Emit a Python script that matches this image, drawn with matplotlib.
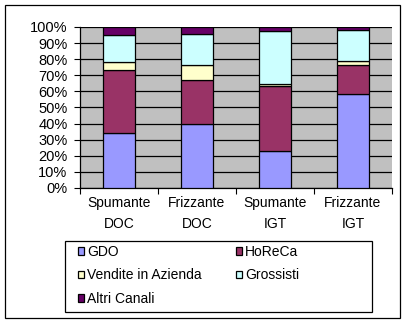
# 100% stacked bars: sales channels per wine type

import numpy as np
import matplotlib.pyplot as plt
from matplotlib.patches import Rectangle

# ── data ────────────────────────────────────────────
categories = ["Spumante\nDOC", "Frizzante\nDOC", "Spumante\nIGT", "Frizzante\nIGT"]
gdo = [34.0, 40.0, 23.0, 58.2]
horeca = [39.3, 27.0, 40.2, 18.0]
vendite = [5.0, 9.4, 1.4, 2.7]
grossisti = [16.7, 19.2, 32.9, 19.2]
altri = [5.0, 4.4, 2.5, 1.9]

series = ["GDO", "HoReCa", "Vendite in Azienda", "Grossisti", "Altri Canali"]
colors = ["#9999FF", "#993366", "#FFFFCC", "#CCFFFF", "#660066"]
yticks = np.arange(0, 101, 10)

plt.rcParams["font.family"] = ["Liberation Sans", "DejaVu Sans"]
FS = 10

fig = plt.figure(figsize=(4.07, 3.24), dpi=100)
ax = fig.add_axes([0.1966, 0.4198, 0.7664, 0.4969])
ax.set_facecolor("#C0C0C0")

# ── stacked bars ────────────────────────────────────
x = np.arange(len(categories))
bottom = np.zeros(len(categories))
handles = []
for name, vals, c in zip(series, [gdo, horeca, vendite, grossisti, altri], colors):
    b = ax.bar(x, vals, bottom=bottom, width=0.4, color=c,
               edgecolor="black", linewidth=0.9, label=name, zorder=3)
    handles.append(b)
    bottom += np.array(vals)

ax.set_xlim(-0.5, len(categories) - 0.5)
ax.set_ylim(0, 100)
ax.set_yticks(yticks)
ax.set_yticklabels([f"{v}%" for v in yticks], fontsize=10.5)
ax.yaxis.grid(True, color="black", linewidth=0.9, zorder=0)

# category labels centred, tick marks on boundaries
ax.set_xticks(np.arange(-0.5, len(categories)), labels=[])
ax.set_xticks(x, labels=categories, minor=True, fontsize=FS, linespacing=1.65)
ax.tick_params(axis="x", which="minor", length=0, pad=5.5)
ax.tick_params(axis="x", which="major", length=4, direction="out")
ax.tick_params(axis="y", length=4, direction="out", pad=5)

for s in ["top", "right"]:
    ax.spines[s].set_visible(False)
for s in ["left", "bottom"]:
    ax.spines[s].set_linewidth(0.9)

# ── legend (two columns placed separately, frame drawn by hand) ──
leg_kw = dict(loc="upper left", frameon=False, fontsize=FS,
              handlelength=0.45, handleheight=0.45, handletextpad=0.2,
              borderpad=0, borderaxespad=0, labelspacing=0.68)
fig.legend([handles[0], handles[2], handles[4]],
           [series[0], series[2], series[4]],
           bbox_to_anchor=(78 / 407, 1 - 245 / 324), **leg_kw)
fig.legend([handles[1], handles[3]], [series[1], series[3]],
           bbox_to_anchor=(236 / 407, 1 - 245 / 324), **leg_kw)
fig.patches.append(Rectangle((65 / 407, 1 - 312 / 324), 307 / 407, 71 / 324,
                             transform=fig.transFigure, fill=False,
                             edgecolor="black", linewidth=0.9))

# outer chart border
fig.patches.append(Rectangle((0.0123, 0.0185), 0.9707, 0.9661,
                             transform=fig.transFigure, fill=False,
                             edgecolor="black", linewidth=0.9))

fig.savefig("out.png", dpi=100)
